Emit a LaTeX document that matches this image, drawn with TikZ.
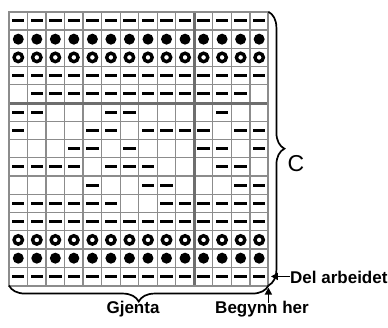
\documentclass[tikz,border=0pt]{standalone}
\usepackage{fontspec}
\setmainfont{Liberation Sans}
\usetikzlibrary{decorations.pathreplacing,arrows.meta}
\definecolor{gridgray}{HTML}{8C8C8C}
\definecolor{gridthick}{HTML}{6E6E6E}
\begin{document}
\begin{tikzpicture}[x=1pt,y=-1pt,
  thinline/.style={draw=gridgray, line width=1.3pt},
  thickline/.style={draw=gridthick, line width=3pt},
  borderline/.style={draw=gridgray, line width=2pt},
  bracestyle/.style={decorate, decoration={brace, amplitude=16pt}, line width=1.7pt, draw=black},
  arr/.style={draw=black, line width=1.5pt, -{Triangle[length=7pt,width=7pt]}},
  lbl/.style={inner sep=0pt, font=\bfseries\fontsize{17}{17}\selectfont},
  symd/.pic={\fill[black] (-6.2,-1.5) rectangle (6.2,1.5);},
  symp/.pic={\fill[black] (0,0) circle (5.5);},
  symo/.pic={\draw[black, line width=3.4pt] (0,0) circle (4.2);},
  syme/.pic={}
]
\def\xo{9}
\def\yo{11.8}
\def\cw{18.53}
\def\rh{18.25}
\fill[white] (0,0) rectangle (388,327);
\useasboundingbox (0,0) rectangle (388,327);
% grid
\foreach \k in {1,...,13}
  \draw[thinline] ({\xo+\k*\cw},\yo) -- ({\xo+\k*\cw},{\yo+15*\rh});
\foreach \j in {1,...,14}
  \draw[thinline] (\xo,{\yo+\j*\rh}) -- ({\xo+14*\cw},{\yo+\j*\rh});
\draw[thickline] ({\xo+10*\cw},\yo) -- ({\xo+10*\cw},{\yo+15*\rh});
\draw[thickline] (\xo,{\yo+5*\rh}) -- ({\xo+14*\cw},{\yo+5*\rh});
\draw[borderline] (\xo,\yo) rectangle ({\xo+14*\cw},{\yo+15*\rh});
% symbols
\foreach \r/\row in {
  1/{d,d,d,d,d,d,d,d,d,d,d,d,d,d},
  2/{p,p,p,p,p,p,p,p,p,p,p,p,p,p},
  3/{o,o,o,o,o,o,o,o,o,o,o,o,o,o},
  4/{d,d,d,d,d,d,d,d,d,d,d,d,d,d},
  5/{e,d,d,d,d,d,d,d,d,d,d,d,d,e},
  6/{d,d,e,e,e,d,d,e,e,e,e,d,e,e},
  7/{d,e,e,e,d,d,e,d,d,d,d,e,d,d},
  8/{e,e,e,d,d,e,d,e,e,e,d,d,e,d},
  9/{d,d,d,d,e,d,d,d,e,e,e,d,d,e},
  10/{e,e,e,e,d,e,e,d,d,e,e,e,d,d},
  11/{d,d,d,d,d,d,e,e,d,d,d,d,d,d},
  12/{d,d,d,d,d,d,d,d,d,d,d,d,d,d},
  13/{o,o,o,o,o,o,o,o,o,o,o,o,o,o},
  14/{p,p,p,p,p,p,p,p,p,p,p,p,p,p},
  15/{d,d,d,d,d,d,d,d,d,d,d,d,d,d}}
{
  \foreach \s [count=\c] in \row {
    \pic at ({\xo+(\c-0.5)*\cw},{\yo+(\r-0.5)*\rh}) {sym\s};
  }
}
% corners
\coordinate (tr) at ({\xo+14*\cw},\yo);
\coordinate (br) at ({\xo+14*\cw},{\yo+15*\rh});
\coordinate (bl) at (\xo,{\yo+15*\rh});
% braces
\draw[bracestyle] (tr) -- (br);
\draw[bracestyle] (br) -- (bl);
% labels
\node[anchor=base west, inner sep=0pt, font=\fontsize{23}{23}\selectfont] (c) at (287.5,171.5) {C};
\node[lbl, anchor=base] (gj) at (133,313) {Gjenta};
\node[lbl, anchor=base] (bh) at (262,313) {Begynn her};
\node[lbl, anchor=base west] (del) at (290,283.5) {Del arbeidet};
% arrows
\coordinate (delTail) at (289.5,{\yo+14.5*\rh});
\coordinate (delTip) at ({\xo+14*\cw+2.5},{\yo+14.5*\rh});
\draw[arr] (delTail) -- (delTip);
\coordinate (bhTail) at ({\xo+14*\cw},303);
\coordinate (bhTip) at ({\xo+14*\cw},{\yo+15*\rh+2});
\draw[arr] (bhTail) -- (bhTip);
\end{tikzpicture}
\end{document}
